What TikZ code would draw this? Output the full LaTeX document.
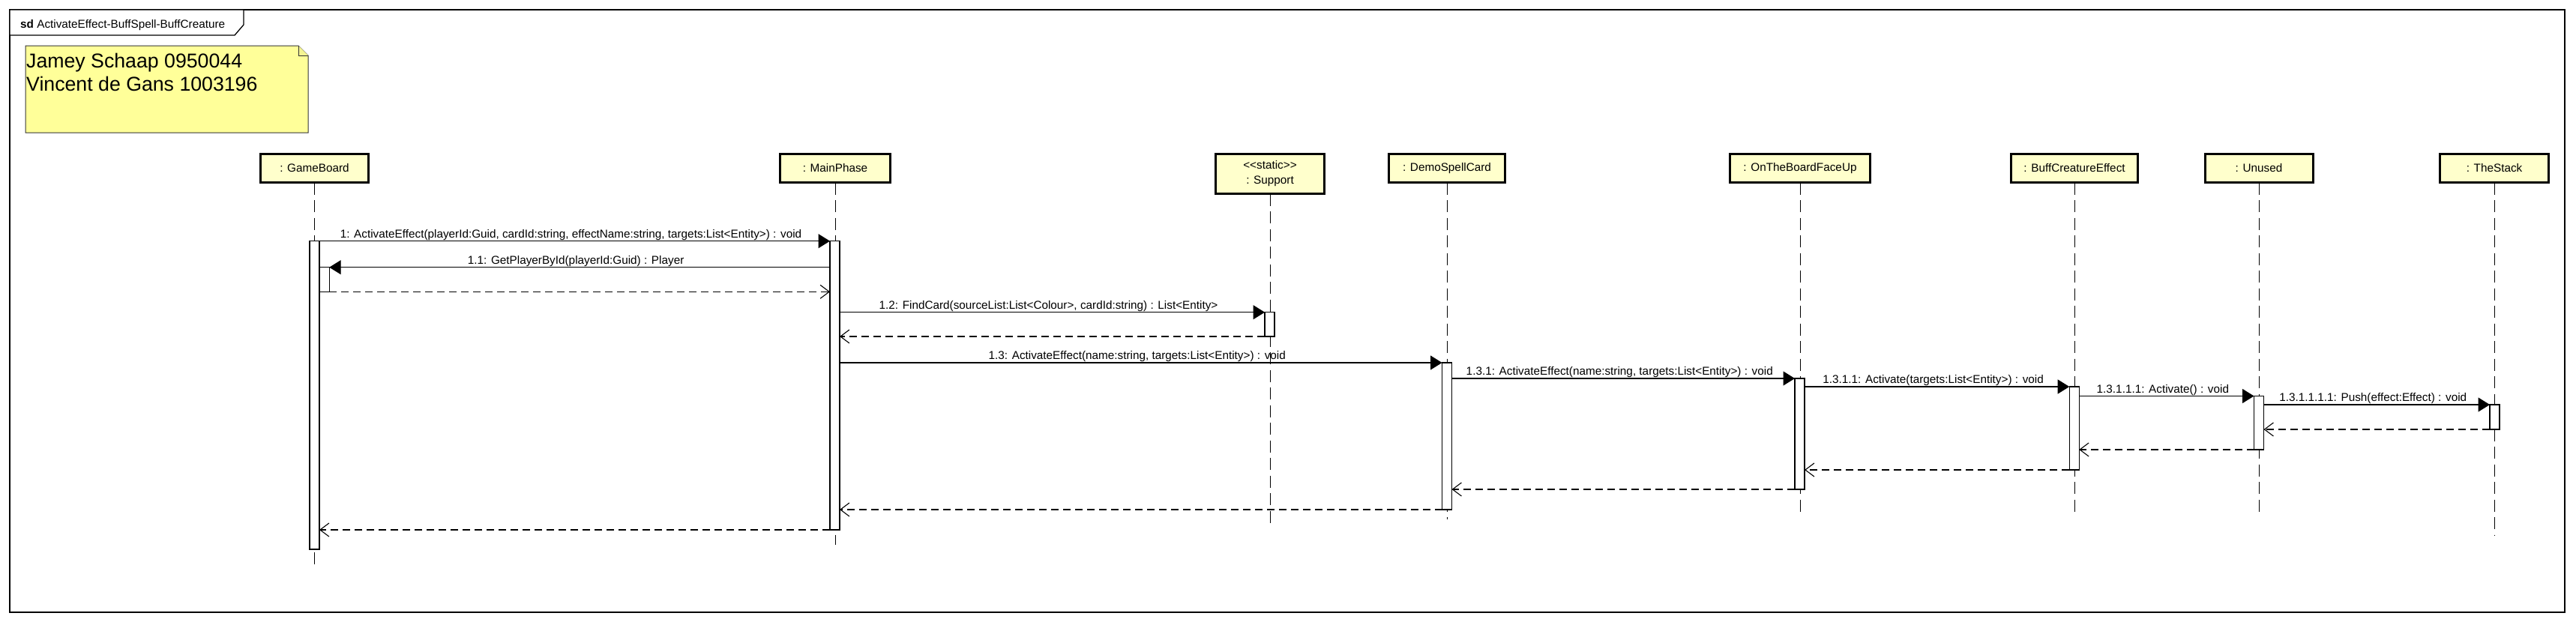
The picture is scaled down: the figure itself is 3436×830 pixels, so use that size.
\documentclass[tikz,border=0pt]{standalone}
\usepackage{fontspec}
\setmainfont{Liberation Sans}
\usetikzlibrary{arrows.meta}
\definecolor{boxfill}{RGB}{255,255,204}
\definecolor{notefill}{RGB}{255,255,153}
\begin{document}
\begin{tikzpicture}[x=1bp,y=-1bp,
  lbl/.style={font=\fontsize{15.3bp}{18bp}\selectfont, inner sep=0pt},
  notetxt/.style={font=\fontsize{26.7bp}{31.4bp}\selectfont, inner sep=0pt, anchor=base west},
  lifebox/.style={draw, line width=3bp, fill=boxfill, minimum height=38bp, inner sep=0pt, outer sep=0pt,
    font=\fontsize{15.3bp}{20bp}\selectfont, align=center},
  lifeline/.style={line width=1bp, dash pattern=on 16bp off 7.5bp},
  actbar/.style={draw, fill=white, line width=1.2bp, minimum width=13bp, inner sep=0pt, outer sep=0pt, anchor=north},
  msg/.style={line width=1.1bp, -{Triangle[length=15.5bp,width=19bp]}},
  ret/.style={line width=1.1bp, dash pattern=on 10bp off 6bp,
    -{Straight Barb[length=12bp,width=18bp,line width=1.1bp]}},
  mlabel/.style={lbl, anchor=base, midway, yshift=4.5bp, xshift=-5bp},
]
\useasboundingbox (0,0) rectangle (3436,830);

% frame
\draw[line width=1.3bp] (13,13) rectangle (3421,817);
\draw[line width=1.3bp, fill=white] (13,13) -- (325,13) -- (325,33) -- (313,47) -- (13,47) -- cycle;
\node[lbl, anchor=base west] (title) at (27,37) {\textbf{sd} ActivateEffect-BuffSpell-BuffCreature};

% note
\draw[line width=1bp, fill=notefill, draw=black!80] (34,61) -- (398,61) -- (411,74) -- (411,177) -- (34,177) -- cycle;
\draw[line width=1bp, fill=notefill!80!black!20!notefill, draw=black!80] (398,61) -- (398,74) -- (411,74);
\node[notetxt] (note1) at (35,90.4) {Jamey Schaap 0950044};
\node[notetxt] (note2) at (35,121.8) {Vincent de Gans 1003196};

% lifeline heads
\node[lifebox, minimum width=144bp] (gb) at (419.5,224.5) {: GameBoard};
\node[lifebox, minimum width=147bp] (mp) at (1114,224.5) {: MainPhase};
\node[lifebox, minimum width=145bp, minimum height=53bp] (sp) at (1694,232) {<\kern0pt<static>\kern0pt>\\: Support};
\node[lifebox, minimum width=155bp] (ds) at (1930,224.5) {: DemoSpellCard};
\node[lifebox, minimum width=187bp] (ob) at (2401,224.5) {: OnTheBoardFaceUp};
\node[lifebox, minimum width=169.5bp] (bc) at (2767,224.5) {: BuffCreatureEffect};
\node[lifebox, minimum width=144bp] (un) at (3013,224.5) {: Unused};
\node[lifebox, minimum width=144.5bp] (ts) at (3327,224.5) {: TheStack};

% lifelines
\draw[lifeline] (gb.south) -- (gb.south |- 0,753);
\draw[lifeline] (mp.south) -- (mp.south |- 0,727);
\draw[lifeline] (sp.south) -- (sp.south |- 0,700);
\draw[lifeline] (ds.south) -- (ds.south |- 0,693);
\draw[lifeline] (ob.south) -- (ob.south |- 0,686);
\draw[lifeline] (bc.south) -- (bc.south |- 0,686);
\draw[lifeline] (un.south) -- (un.south |- 0,686);
\draw[lifeline] (ts.south) -- (ts.south |- 0,714);

% activation bars
\node[actbar, minimum height=411.3bp] (gbBar) at (419.5,321.7) {};
\node[actbar, minimum height=32.6bp] (gbBar2) at (432.7,356.7) {};
\node[actbar, minimum height=385.3bp] (mpBar) at (1113.5,321.7) {};
\node[actbar, minimum height=32.3bp] (spBar) at (1693.5,416.7) {};
\node[actbar, minimum height=196bp] (dsBar) at (1930,484) {};
\node[actbar, minimum height=148bp] (obBar) at (2400.5,505) {};
\node[actbar, minimum height=111bp] (bcBar) at (2766.7,516) {};
\node[actbar, minimum height=71.5bp] (unBar) at (3013,528.5) {};
\node[actbar, minimum height=33bp] (tsBar) at (3327.5,540) {};

% messages
\draw[msg] (gbBar.north east) -- node[mlabel] (l1) {1: ActivateEffect(playerId:Guid, cardId:string, effectName:string, targets:List<Entity>) : void} (mpBar.north west);
\draw[msg] (mpBar.west |- gbBar2.north) -- node[mlabel] (l11) {1.1: GetPlayerById(playerId:Guid) : Player} (gbBar2.north east);
\draw[ret] (gbBar2.south east) -- (mpBar.west |- gbBar2.south);
\draw[msg] (mpBar.east |- spBar.north) -- node[mlabel] (l12) {1.2: FindCard(sourceList:List<Colour>, cardId:string) : List<Entity>} (spBar.north west);
\draw[ret] (spBar.south west) -- (mpBar.east |- spBar.south);
\draw[msg] (mpBar.east |- dsBar.north) -- node[mlabel] (l13) {1.3: ActivateEffect(name:string, targets:List<Entity>) : void} (dsBar.north west);
\draw[msg] (dsBar.east |- obBar.north) -- node[mlabel] (l131) {1.3.1: ActivateEffect(name:string, targets:List<Entity>) : void} (obBar.north west);
\draw[msg] (obBar.east |- bcBar.north) -- node[mlabel] (l1311) {1.3.1.1: Activate(targets:List<Entity>) : void} (bcBar.north west);
\draw[msg] (bcBar.east |- unBar.north) -- node[mlabel] (l13111) {1.3.1.1.1: Activate() : void} (unBar.north west);
\draw[msg] (unBar.east |- tsBar.north) -- node[mlabel] (l131111) {1.3.1.1.1.1: Push(effect:Effect) : void} (tsBar.north west);

% returns
\draw[ret] (tsBar.south west) -- (unBar.east |- tsBar.south);
\draw[ret] (unBar.south west) -- (bcBar.east |- unBar.south);
\draw[ret] (bcBar.south west) -- (obBar.east |- bcBar.south);
\draw[ret] (obBar.south west) -- (dsBar.east |- obBar.south);
\draw[ret] (dsBar.south west) -- (mpBar.east |- dsBar.south);
\draw[ret] (mpBar.south west) -- (gbBar.east |- mpBar.south);
\end{tikzpicture}
\end{document}
